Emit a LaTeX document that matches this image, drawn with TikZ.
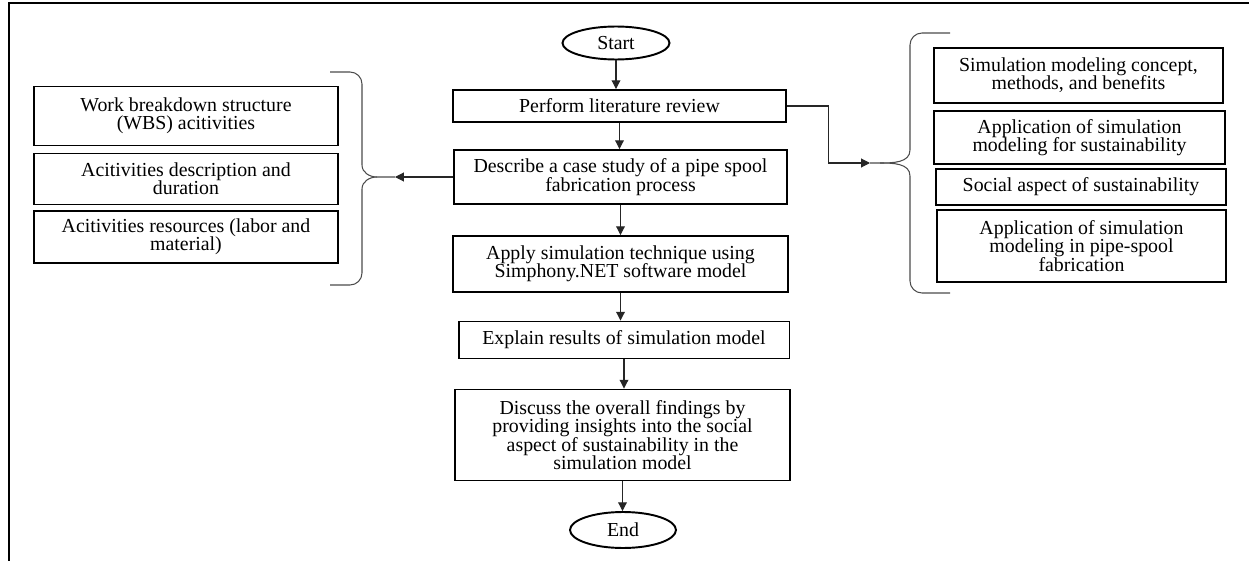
\documentclass[tikz,border=0pt]{standalone}
\usepackage{fontspec}
\setmainfont{Liberation Serif}
\usetikzlibrary{arrows.meta,shapes.geometric}
\tikzset{
	box/.style={draw,line width=1.1pt,align=center,inner sep=0pt},
	term/.style={draw,ellipse,line width=1.1pt,inner sep=0pt},
	flow/.style={draw=black!85,line width=0.6pt,-{Triangle[length=5pt,width=5pt]}},
	brace/.style={draw=black!70,line width=0.6pt},
}
\begin{document}
\begin{tikzpicture}[x=0.02cm,y=-0.02cm,font=\fontsize{11.3}{10.4}\selectfont]
	\useasboundingbox (0,0) rectangle (1249,561);
	% frame
	\draw[line width=1.2pt] (9,561) -- (9,3) -- (1249,3);
	% main flow
	\node[term,minimum width=2.14cm,minimum height=0.66cm] (start) at (616,43) {Start};
	\node[box,minimum width=6.66cm,minimum height=0.64cm] (review) at (619.5,106) {Perform literature review};
	\node[box,minimum width=6.66cm,minimum height=1.08cm] (casestudy) at (620.5,177) {Describe a case study of a pipe spool\\fabrication process};
	\node[box,minimum width=6.7cm,minimum height=1.12cm] (simtech) at (620.5,264) {Apply simulation technique using\\Simphony.NET software model};
	\node[box,minimum width=6.62cm,minimum height=0.74cm] (results) at (624,340) {Explain results of simulation model};
	\node[box,minimum width=6.7cm,minimum height=1.82cm] (findings) at (622.5,435) {Discuss the overall findings by\\providing insights into the social\\aspect of sustainability in the\\simulation model};
	\node[term,minimum width=2.12cm,minimum height=0.72cm] (stop) at (623,530) {End};
	\foreach \a/\b in {start/review,review/casestudy,casestudy/simtech,simtech/results,results/findings,findings/stop}
	\draw[flow] (\a.south) -- (\a.south |- \b.north);
	% case study items
	\node[box,minimum width=6.08cm,minimum height=1.18cm] (wbs) at (186,116) {Work breakdown structure\\(WBS) acitivities};
	\node[box,minimum width=6.08cm,minimum height=1.02cm] (duration) at (186,179) {Acitivities description and\\duration};
	\node[box,minimum width=6.08cm,minimum height=1.04cm] (resources) at (186,237) {Acitivities resources (labor and\\material)};
	\coordinate (ltip) at (395,177);
	\draw[flow] (casestudy.west) -- (ltip);
	\draw[brace] (ltip) -- (377,177) to[out=180,in=-90] (362,165) -- (362,84) to[out=90,in=0] (350,72) -- (330,72);
	\draw[brace] (377,177) to[out=180,in=90] (362,189) -- (362,273) to[out=-90,in=0] (350,285) -- (330,285);
	% literature items
	\node[box,minimum width=5.78cm,minimum height=1.1cm] (concept) at (1078.5,75.5) {Simulation modeling concept,\\methods, and benefits};
	\node[box,minimum width=5.82cm,minimum height=1.06cm] (sustapp) at (1079.5,137.5) {Application of simulation\\modeling for sustainability};
	\node[box,minimum width=5.8cm,minimum height=0.72cm] (social) at (1081,187) {Social aspect of sustainability};
	\node[box,minimum width=5.78cm,minimum height=1.44cm] (spoolapp) at (1081.5,246) {Application of simulation\\modeling in pipe-spool\\fabrication};
	\coordinate (rtip) at (870,163);
	\draw[flow] (review.east) -- ++(42,0) |- (rtip);
	\draw[brace] (rtip) -- (880,163) to[out=0,in=-90] (910,150) -- (910,45) to[out=90,in=180] (922,33) -- (950,33);
	\draw[brace] (880,163) to[out=0,in=90] (910,176) -- (910,281) to[out=-90,in=180] (922,293) -- (950,293);
\end{tikzpicture}
\end{document}
